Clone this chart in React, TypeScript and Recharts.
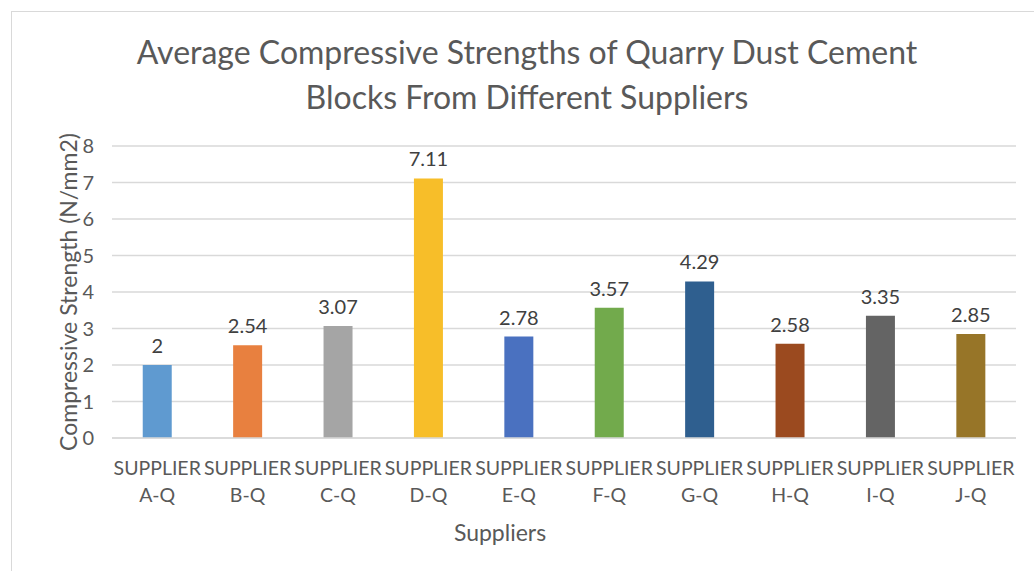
import React from "react"
import { Bar, BarChart, CartesianGrid, Cell, LabelList, XAxis, YAxis } from "recharts"

const suppliers = [
    "SUPPLIER A-Q",
    "SUPPLIER B-Q",
    "SUPPLIER C-Q",
    "SUPPLIER D-Q",
    "SUPPLIER E-Q",
    "SUPPLIER F-Q",
    "SUPPLIER G-Q",
    "SUPPLIER H-Q",
    "SUPPLIER I-Q",
    "SUPPLIER J-Q",
]
const strengths = [2, 2.54, 3.07, 7.11, 2.78, 3.57, 4.29, 2.58, 3.35, 2.85]
const barColors = [
    "#5F9AD0",
    "#E8803F",
    "#A5A5A5",
    "#F7BE29",
    "#4A71C0",
    "#72AA4C",
    "#2F5F8F",
    "#9B4A1F",
    "#646464",
    "#977528",
]
const yTicks = [0, 1, 2, 3, 4, 5, 6, 7, 8]

const data = suppliers.map((name, i) => ({ name, value: strengths[i] }))

const font = "Lato, 'Open Sans', sans-serif"
const textColor = "#595959"

function SupplierTick(props: any) {
    const { x, y, payload } = props
    const [first, second] = String(payload.value).split(" ")
    return (
        <g transform={`translate(${x},${y})`}>
            <text textAnchor="middle" fill={textColor} fontSize={19.5} fontFamily={font}>
                <tspan x={0} y={29}>{first}</tspan>
                <tspan x={0} y={56}>{second}</tspan>
            </text>
        </g>
    )
}

function YTitle(props: any) {
    const { viewBox } = props
    const cx = 68
    const cy = viewBox.y + viewBox.height / 2
    return (
        <text
            x={cx}
            y={cy}
            transform={`rotate(-90, ${cx}, ${cy})`}
            textAnchor="middle"
            dominantBaseline="central"
            fill={textColor}
            fontSize={23}
            fontFamily={font}
        >
            Compressive Strength (N/mm2)
        </text>
    )
}

export default function App() {
    return (
        <div style={{ position: "absolute", left: 0, top: 0, width: 1034, height: 571, overflow: "hidden", background: "#fff" }}>
            <div style={{ position: "absolute", left: 11, top: 11, width: 1100, height: 700, border: "1px solid #d9d9d9" }} />
            <div
                style={{
                    position: "absolute",
                    left: 0,
                    top: 29,
                    width: 1054,
                    textAlign: "center",
                    fontFamily: font,
                    fontSize: 32,
                    lineHeight: "45px",
                    color: textColor,
                }}
            >
                Average Compressive Strengths of Quarry Dust Cement
                <br />
                Blocks From Different Suppliers
            </div>
            <div
                style={{
                    position: "absolute",
                    left: 0,
                    top: 518,
                    width: 1000,
                    textAlign: "center",
                    fontFamily: font,
                    fontSize: 23,
                    color: textColor,
                }}
            >
                Suppliers
            </div>
            <div style={{ position: "absolute", left: 0, top: 0 }}>
                <BarChart
                    width={1034}
                    height={571}
                    data={data}
                    margin={{ top: 146, right: 18, bottom: 43, left: 0 }}
                    barCategoryGap="34%"
                >
                    <CartesianGrid vertical={false} stroke="#d9d9d9" strokeWidth={1.5} />
                    <XAxis
                        dataKey="name"
                        height={90}
                        axisLine={{ stroke: "#d9d9d9", strokeWidth: 1.5 }}
                        tickLine={false}
                        tick={<SupplierTick />}
                        interval={0}
                    />
                    <YAxis
                        width={112}
                        domain={[0, 8]}
                        ticks={yTicks}
                        axisLine={false}
                        tickLine={false}
                        tickMargin={12}
                        tick={{ fill: textColor, fontSize: 20, fontFamily: font }}
                        label={<YTitle />}
                    />
                    <Bar dataKey="value" isAnimationActive={false}>
                        {data.map((entry, index) => (
                            <Cell key={`cell-${index}`} fill={barColors[index]} />
                        ))}
                        <LabelList
                            dataKey="value"
                            position="top"
                            offset={12}
                            fill="#404040"
                            fontSize={20}
                            fontFamily={font}
                        />
                    </Bar>
                </BarChart>
            </div>
        </div>
    )
}
